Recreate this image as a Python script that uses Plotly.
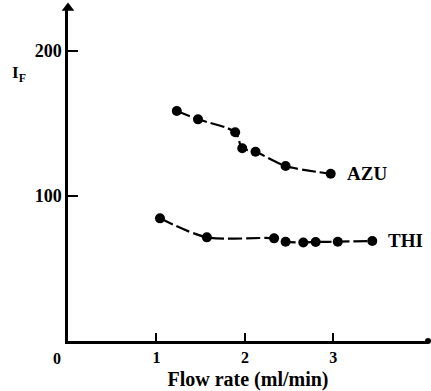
import plotly.graph_objects as go

azu_x = [1.23, 1.47, 1.89, 1.97, 2.12, 2.46, 2.97]
azu_y = [158.6, 152.9, 144.0, 132.9, 130.5, 120.7, 115.4]
thi_x = [1.04, 1.57, 2.33, 2.46, 2.66, 2.80, 3.05, 3.44]
thi_y = [84.6, 71.5, 70.8, 68.5, 68.0, 68.3, 68.5, 69.0]
x_ticks = [1, 2, 3]
y_ticks = [100, 200]
x_max = 4.07
y_max = 229.7

FONT = "Liberation Serif"
fig = go.Figure()
for xs, ys, name in [(azu_x, azu_y, "AZU"), (thi_x, thi_y, "THI")]:
    fig.add_trace(go.Scatter(
        x=xs, y=ys, mode="lines+markers", name=name,
        line=dict(color="black", width=2.2, dash="14px,4px", shape="spline", smoothing=0.8),
        marker=dict(color="black", size=10),
        cliponaxis=False, showlegend=False))
    fig.add_annotation(x=xs[-1], y=ys[-1], text="<b>%s</b>" % name, showarrow=False,
                       xanchor="left", xshift=14, font=dict(family=FONT, size=19, color="black"))

# end dot on x axis and arrow head on y axis
fig.add_trace(go.Scatter(x=[x_max], y=[0], mode="markers", marker=dict(color="black", size=6),
                         cliponaxis=False, showlegend=False))
fig.add_trace(go.Scatter(x=[0], y=[y_max], mode="markers",
                         marker=dict(color="black", size=11, symbol="triangle-up"),
                         cliponaxis=False, showlegend=False))

fig.add_annotation(x=0, y=0, text="<b>0</b>", showarrow=False, xanchor="center", yanchor="top",
                   xshift=-11, yshift=-7, font=dict(family=FONT, size=16, color="black"))
fig.add_annotation(x=0, y=200, text="<b>I<sub>F</sub></b>", showarrow=False, xref="paper", yref="y",
                   xanchor="left", yanchor="middle", xshift=-58, yshift=-23,
                   font=dict(family=FONT, size=17, color="black"))

fig.update_xaxes(range=[0, x_max], tickvals=x_ticks, ticktext=["<b>%d</b>" % v for v in x_ticks],
                 showline=True, linecolor="black", linewidth=2.5, ticks="inside", ticklen=8,
                 tickwidth=2, tickcolor="black", showgrid=False, zeroline=False,
                 tickfont=dict(family=FONT, size=16, color="black"),
                 title=dict(text="<b>Flow rate (ml/min)</b>", font=dict(family=FONT, size=20, color="black"),
                            standoff=8))
fig.update_yaxes(range=[0, y_max], tickvals=y_ticks, ticktext=["<b>%d</b>" % v for v in y_ticks],
                 showline=True, linecolor="black", linewidth=2.5, ticks="inside", ticklen=10,
                 tickwidth=2, tickcolor="black", showgrid=False, zeroline=False,
                 tickfont=dict(family=FONT, size=18, color="black"))
fig.update_layout(width=431, height=391, margin=dict(l=68, r=3, t=8, b=50),
                  plot_bgcolor="white", paper_bgcolor="white")
fig.write_html("out.html", config={"displayModeBar": False},
               post_script="document.body.style.margin='0';document.body.style.overflow='hidden';")
